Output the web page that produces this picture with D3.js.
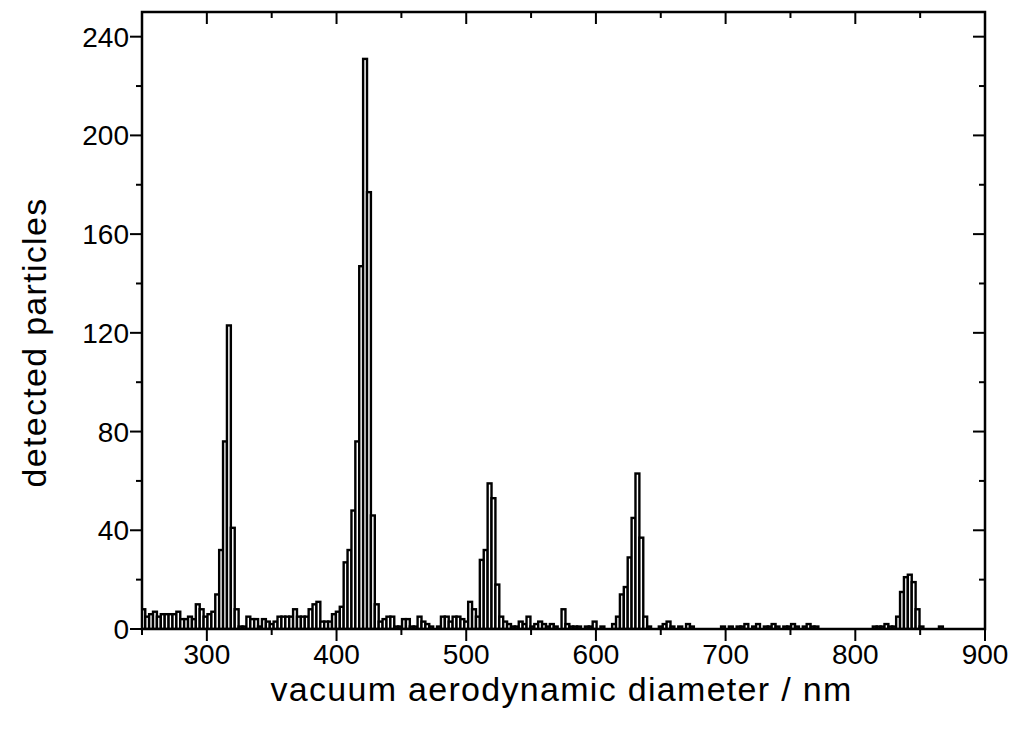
<!DOCTYPE html>
<html><head><meta charset="utf-8">
<script src="https://cdn.jsdelivr.net/npm/d3@7"></script>
<style>body{margin:0;background:#fff}svg{display:block}text{font-family:Arial,"Liberation Sans",sans-serif}</style>
</head><body><svg id="c" width="1018" height="736"></svg>
<script>
// histogram bins (nm): first bin starts at 249.5, width 3 nm
const binStart = 249.5;
const binWidth = 3;
const counts = [
 8,5,6,7,5,6,6,6,6,7, 4,4,5,4,10,8,5,6,7,14, 32,76,123,41,8,1,1,5,4,4,
 1,4,3,2,3,5,5,5,5,8, 5,5,5,8,10,11,3,3,3,6, 7,9,27,32,48,76,147,231,177,46,
 10,3,4,5,5,1,1,4,4,1, 1,5,3,2,1,0,1,5,5,3, 5,5,4,3,11,8,5,28,32,59,
 53,18,5,3,2,1,1,3,2,5, 1,2,3,2,1,2,1,0,8,2, 1,1,1,0,1,1,3,0,1,0,
 0,2,5,14,17,29,45,63,37,5, 1,0,0,1,2,3,1,0,1,0, 2,1,0,0,0,0,0,0,0,1,
 0,1,0,1,1,2,0,1,2,0, 1,1,2,1,0,1,1,2,1,0, 1,2,1,1,0,0,0,0,0,0,
 0,0,0,0,0,0,0,0,1,1, 1,2,1,1,5,15,21,22,19,8, 1,0,0,0,0,1,0
];
const xTicks = [300,400,500,600,700,800,900];
const yTicks = [0,40,80,120,160,200,240];
const xTitle = "vacuum aerodynamic diameter / nm";
const yTitle = "detected particles";

const L=142,R=985,T=12,B=629;
const svg=d3.select("#c");
const x=d3.scaleLinear().domain([250,900]).range([L,R]);
const y=d3.scaleLinear().domain([0,250]).range([B,T]);

svg.append("clipPath").attr("id","clip").append("rect").attr("x",L).attr("y",T).attr("width",R-L).attr("height",B-T);

const bins=counts.map((c,i)=>({x0:binStart+i*binWidth,x1:binStart+(i+1)*binWidth,c})).filter(d=>d.c>0);
svg.append("g").attr("clip-path","url(#clip)").selectAll("rect").data(bins).join("rect")
 .attr("x",d=>x(d.x0)).attr("width",d=>x(d.x1)-x(d.x0))
 .attr("y",d=>y(d.c)).attr("height",d=>y(0)-y(d.c))
 .attr("fill","#fff").attr("stroke","#000").attr("stroke-width",2.4);

const major=12, minor=6;
const xMinor=d3.range(250,901,50), yMinor=d3.range(0,251,20);
const g=svg.append("g").attr("stroke","#000").attr("stroke-width",2);
xMinor.forEach(v=>{const len=(v%100===0)?major:minor;
 g.append("line").attr("x1",x(v)).attr("x2",x(v)).attr("y1",B).attr("y2",B+len);
 g.append("line").attr("x1",x(v)).attr("x2",x(v)).attr("y1",T).attr("y2",T+len);});
yMinor.forEach(v=>{const len=(v%40===0)?major:minor;
 g.append("line").attr("y1",y(v)).attr("y2",y(v)).attr("x1",L).attr("x2",L-len);
 g.append("line").attr("y1",y(v)).attr("y2",y(v)).attr("x1",R).attr("x2",R-len);});
svg.append("rect").attr("x",L).attr("y",T).attr("width",R-L).attr("height",B-T).attr("fill","none").attr("stroke","#000").attr("stroke-width",2.5);

svg.append("g").selectAll("text").data(xTicks).join("text").attr("x",d=>x(d)).attr("y",B+35)
 .attr("text-anchor","middle").attr("font-size",28).text(d=>d);
svg.append("g").selectAll("text").data(yTicks).join("text").attr("x",L-13).attr("y",d=>y(d)+10)
 .attr("text-anchor","end").attr("font-size",28).text(d=>d);
svg.append("text").attr("x",(L+R)/2-2).attr("y",701).attr("text-anchor","middle").attr("font-size",34).attr("letter-spacing",1.3).text(xTitle);
svg.append("text").attr("transform",`translate(46,${(T+B)/2+22}) rotate(-90)`).attr("text-anchor","middle").attr("font-size",34).attr("letter-spacing",1.3).text(yTitle);
</script></body></html>
